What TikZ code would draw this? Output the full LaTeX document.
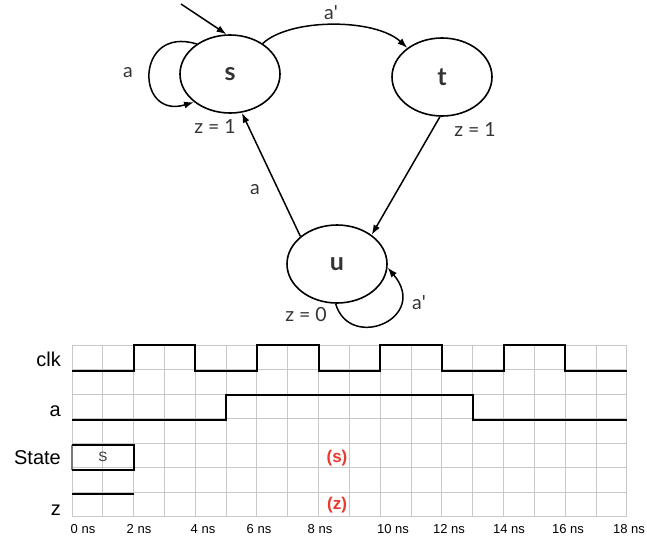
\documentclass[tikz,border=0pt]{standalone}
\usepackage{fontspec}
\setmainfont{Liberation Sans}
\newfontfamily\statefont{Lato}
\usetikzlibrary{shapes.geometric,arrows.meta}
\definecolor{ink}{HTML}{333333}
\definecolor{gridgray}{HTML}{C8C8C8}
\definecolor{hot}{RGB}{232,58,46}
\tikzset{
  state/.style={ellipse,draw=black,line width=1.6pt,minimum width=100pt,minimum height=78pt,
    inner sep=0pt,font=\statefont\bfseries\fontsize{25}{25}\selectfont,text=ink},
  trans/.style={line width=1.5pt,-{Latex[length=10pt,width=7pt]}},
  elabel/.style={font=\statefont\fontsize{19.5}{19.5}\selectfont,text=ink,inner sep=0pt},
  rowlabel/.style={anchor=base east,font=\fontsize{20}{20}\selectfont,inner sep=0pt},
  tick/.style={anchor=base,font=\fontsize{13}{13}\selectfont,inner sep=0pt},
  wave/.style={line width=2pt,black},
  pending/.style={font=\bfseries\fontsize{17}{17}\selectfont,text=hot,inner sep=0pt}
}
\begin{document}
\begin{tikzpicture}[x=1pt,y=-1pt]
\useasboundingbox (0,0) rectangle (647,538);

% ---------- state diagram ----------
\node[state] (s) at (230,74) {s};
\node[state] (t) at (442,77) {t};
\node[state] (u) at (337,264) {u};
\coordinate (init) at (181,4);

\draw[trans] (init) -- (s.95);
\draw[trans] (s.138) .. controls (135,25) and (135,120) .. (s.218);
\draw[trans] (s.43) .. controls (290,18) and (375,18) .. (t.140);
\draw[trans] (t.267) -- (u.40);
\draw[trans] (u.143) -- (s.287);
\draw[trans] (u.268) .. controls (350,352) and (430,318) .. (u.356);

\node[elabel] (la1) at (128,73) {a};
\node[elabel] (la2) at (331,13) {a\textquotesingle};
\node[elabel] (zs) at (215,126) {z = 1};
\node[elabel] (zt) at (475,129) {z = 1};
\node[elabel] (la3) at (255,190) {a};
\node[elabel] (zu) at (306,315) {z = 0};
\node[elabel] (la4) at (419,303) {a\textquotesingle};

% ---------- timing diagram ----------
\begin{scope}[xshift=72pt,x=30.83pt]
  % grid
  \foreach \k in {0,...,18}
    \draw[gridgray,line width=1pt] (\k,345) -- (\k,517);
  \foreach \r in {0,...,7}
    \draw[gridgray,line width=1pt] (0,{345+\r*24.57}) -- (18,{345+\r*24.57});

  % clock
  \draw[wave] (0,370.6) -- (2,370.6) -- (2,345.3) -- (4,345.3) -- (4,370.6)
    -- (6,370.6) -- (6,345.3) -- (8,345.3) -- (8,370.6) -- (10,370.6)
    -- (10,345.3) -- (12,345.3) -- (12,370.6) -- (14,370.6) -- (14,345.3)
    -- (16,345.3) -- (16,370.6) -- (18,370.6);
  % input a
  \draw[wave] (0,420) -- (5,420) -- (5,395.3) -- (13,395.3) -- (13,420) -- (18,420);
  % state box
  \draw[gridgray!60!black,line width=2pt] (0,445.3) -- (0,470);
  \draw[wave] (0,445.3) -- (2,445.3) -- (2,470) -- (0,470);
  \node[font=\fontsize{13.5}{13.5}\selectfont,text=ink] (sval) at (1,456.5) {S};
  % output z
  \draw[wave] (0,493.7) -- (2,493.7);
\end{scope}

% row labels
\node[rowlabel] (lclk) at (61,366) {clk};
\node[rowlabel] (la) at (61,416) {a};
\node[rowlabel] (lstate) at (61,464) {State};
\node[rowlabel] (lz) at (61,515) {z};

% time axis
\node[tick] (t0) at (83,533) {0 ns};
\node[tick] (t2) at (139,533) {2 ns};
\node[tick] (t4) at (203,533) {4 ns};
\node[tick] (t6) at (259,533) {6 ns};
\node[tick] (t8) at (320,533) {8 ns};
\node[tick] (t10) at (393,533) {10 ns};
\node[tick] (t12) at (449,533) {12 ns};
\node[tick] (t14) at (509,533) {14 ns};
\node[tick] (t16) at (568,533) {16 ns};
\node[tick] (t18) at (629,533) {18 ns};

% answers still to fill in
\node[pending] (ps) at (337,458) {(s)};
\node[pending] (pz) at (337,505) {(z)};
\end{tikzpicture}
\end{document}
